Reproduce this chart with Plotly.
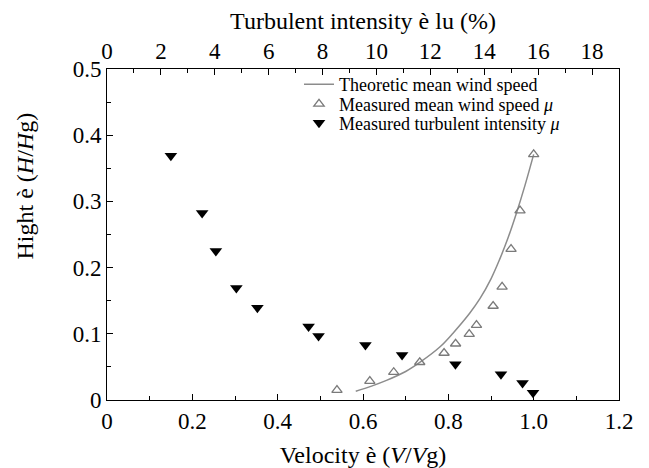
import plotly.graph_objects as go

# Theoretic mean wind speed curve
theory_v = [0.583, 0.62, 0.655, 0.70, 0.733, 0.78, 0.811, 0.85, 0.874, 0.90, 0.920, 0.94, 0.959, 0.98, 1.0]
theory_h = [0.0133, 0.021, 0.0296, 0.043, 0.0567, 0.080, 0.101, 0.131, 0.153, 0.183, 0.212, 0.245, 0.281, 0.325, 0.371]

# Measured mean wind speed (bottom axis V/Vg)
mean_v = [0.539, 0.616, 0.672, 0.733, 0.790, 0.817, 0.849, 0.866, 0.905, 0.926, 0.947, 0.968, 1.0]
mean_h = [0.015, 0.0286, 0.042, 0.057, 0.071, 0.085, 0.0996, 0.113, 0.142, 0.171, 0.228, 0.286, 0.371]

# Measured turbulent intensity (top axis, %)
turb_i = [2.37, 3.53, 4.04, 4.80, 5.58, 7.48, 7.85, 9.59, 10.95, 12.93, 14.62, 15.42, 15.81]
turb_h = [0.369, 0.2825, 0.225, 0.169, 0.1395, 0.111, 0.0966, 0.083, 0.068, 0.054, 0.039, 0.0256, 0.011]

x_ticks = [0, 0.2, 0.4, 0.6, 0.8, 1.0, 1.2]
x_labels = ["0", "0.2", "0.4", "0.6", "0.8", "1.0", "1.2"]
y_ticks = [0, 0.1, 0.2, 0.3, 0.4, 0.5]
y_labels = ["0", "0.1", "0.2", "0.3", "0.4", "0.5"]
top_ticks = [0, 2, 4, 6, 8, 10, 12, 14, 16, 18]

FONT = "Liberation Serif"
TICK = 23
TITLE = 24

fig = go.Figure()
fig.add_trace(go.Scatter(
    x=theory_v, y=theory_h, mode="lines", line=dict(color="#8c8c8c", width=1.5, shape="spline"),
    name="Theoretic mean wind speed", legend="legend"))
fig.add_trace(go.Scatter(
    x=mean_v, y=mean_h, mode="markers",
    marker=dict(symbol="triangle-up-open", size=9, color="#7a7a7a", line=dict(width=1.3, color="#7a7a7a")),
    name="Measured mean wind speed <i>μ</i>", legend="legend2"))
fig.add_trace(go.Scatter(
    x=turb_i, y=turb_h, mode="markers", xaxis="x2",
    marker=dict(symbol="triangle-down", size=11, color="black"),
    name="Measured turbulent intensity <i>μ</i>", legend="legend3"))

axis_common = dict(showgrid=False, zeroline=False, showline=True, linecolor="black", linewidth=1,
                   ticks="inside", ticklen=6, tickcolor="black",
                   tickfont=dict(family=FONT, size=TICK, color="black"))

leg_common = dict(x=0.375, xanchor="left", yanchor="middle", bgcolor="rgba(0,0,0,0)",
                  font=dict(family=FONT, size=18, color="black"), itemwidth=30)

fig.update_layout(
    width=649, height=468,
    margin=dict(l=99, r=38, t=54, b=76),
    paper_bgcolor="white", plot_bgcolor="white",
    font=dict(family=FONT, size=18, color="black"),
    xaxis=dict(range=[0, 1.2], tickvals=x_ticks, ticktext=x_labels,
               minor=dict(ticks="inside", dtick=0.1, ticklen=4, tickcolor="black"),
               title=dict(text="Velocity è (<i>V</i>/<i>V</i>g)", font=dict(family=FONT, size=TITLE), standoff=13),
               **axis_common),
    xaxis2=dict(range=[0, 19], overlaying="x", side="top", anchor="y", tickvals=top_ticks,
                minor=dict(ticks="inside", dtick=1, ticklen=4, tickcolor="black"),
                title=dict(text="Turbulent intensity è lu (%)", font=dict(family=FONT, size=TITLE), standoff=2),
                **axis_common),
    yaxis=dict(range=[0, 0.5], tickvals=y_ticks, ticktext=y_labels, mirror=True,
               minor=dict(ticks="inside", dtick=0.05, ticklen=4, tickcolor="black"),
               **axis_common),
    annotations=[dict(text="Hight è (<i>H</i>/<i>H</i>g)", textangle=-90, showarrow=False,
                      xref="paper", yref="paper", x=0, y=0.645, xanchor="center", yanchor="middle",
                      xshift=-82, font=dict(family=FONT, size=TITLE, color="black"))],
    legend=dict(y=0.953, **leg_common),
    legend2=dict(y=0.894, **leg_common),
    legend3=dict(y=0.837, **leg_common),
    showlegend=True,
)

fig.write_html("out.html")
